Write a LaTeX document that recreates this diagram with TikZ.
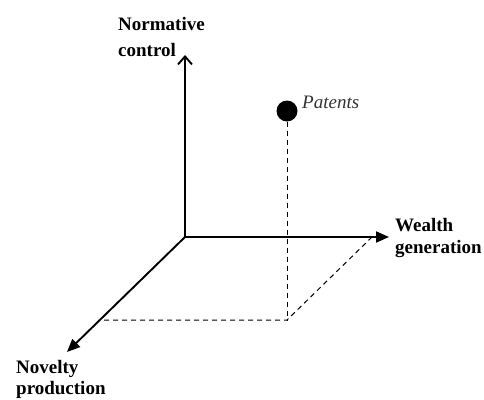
\documentclass[tikz,border=0pt]{standalone}
\usepackage{fontspec}
\setmainfont{Liberation Serif}
\usetikzlibrary{arrows.meta}
\begin{document}
\begin{tikzpicture}[x=1pt,y=-1pt,
  axis/.style={line width=1.9pt},
  guide/.style={line width=1pt, dash pattern=on 5pt off 4pt},
  lab/.style={inner sep=0pt, anchor=base west, font=\fontsize{19}{22}\selectfont\bfseries},
  filledtip/.style={-{Triangle[length=13pt,width=11pt]}},
  opentip/.style={-{Straight Barb[length=8pt,width=14pt,line width=1.9pt]}}]
  \useasboundingbox (0,0) rectangle (484,399);
  % axes
  \coordinate (O) at (185,237);
  \coordinate (ytip) at (185,55);
  \coordinate (xtip) at (389,237);
  \coordinate (ztip) at (67,352);
  \draw[axis,opentip] (O) -- (ytip);
  \draw[axis,filledtip] (O) -- (xtip);
  \draw[axis,filledtip] (O) -- (ztip);
  % point and its projection lines
  \node[circle, fill=black, inner sep=0pt, minimum size=21pt] (pat) at (287,111) {};
  \coordinate (foot) at (287,320);
  \coordinate (zfoot) at (104,320);
  \coordinate (xfoot) at (372,237);
  \draw[guide] (pat.south) -- (foot);
  \draw[guide] (zfoot) -- (foot) -- (xfoot);
  % labels
  \node[inner sep=0pt, anchor=base west, font=\fontsize{19}{22}\selectfont\itshape, text=black!80] (patlab) at (302,108) {Patents};
  \node[lab] (nc1) at (118,30) {Normative};
  \node[lab] (nc2) at (118,56) {control};
  \node[lab] (wg1) at (395,231) {Wealth};
  \node[lab] (wg2) at (395,253) {generation};
  \node[lab] (np1) at (16,373) {Novelty};
  \node[lab] (np2) at (16,394) {production};
\end{tikzpicture}
\end{document}
